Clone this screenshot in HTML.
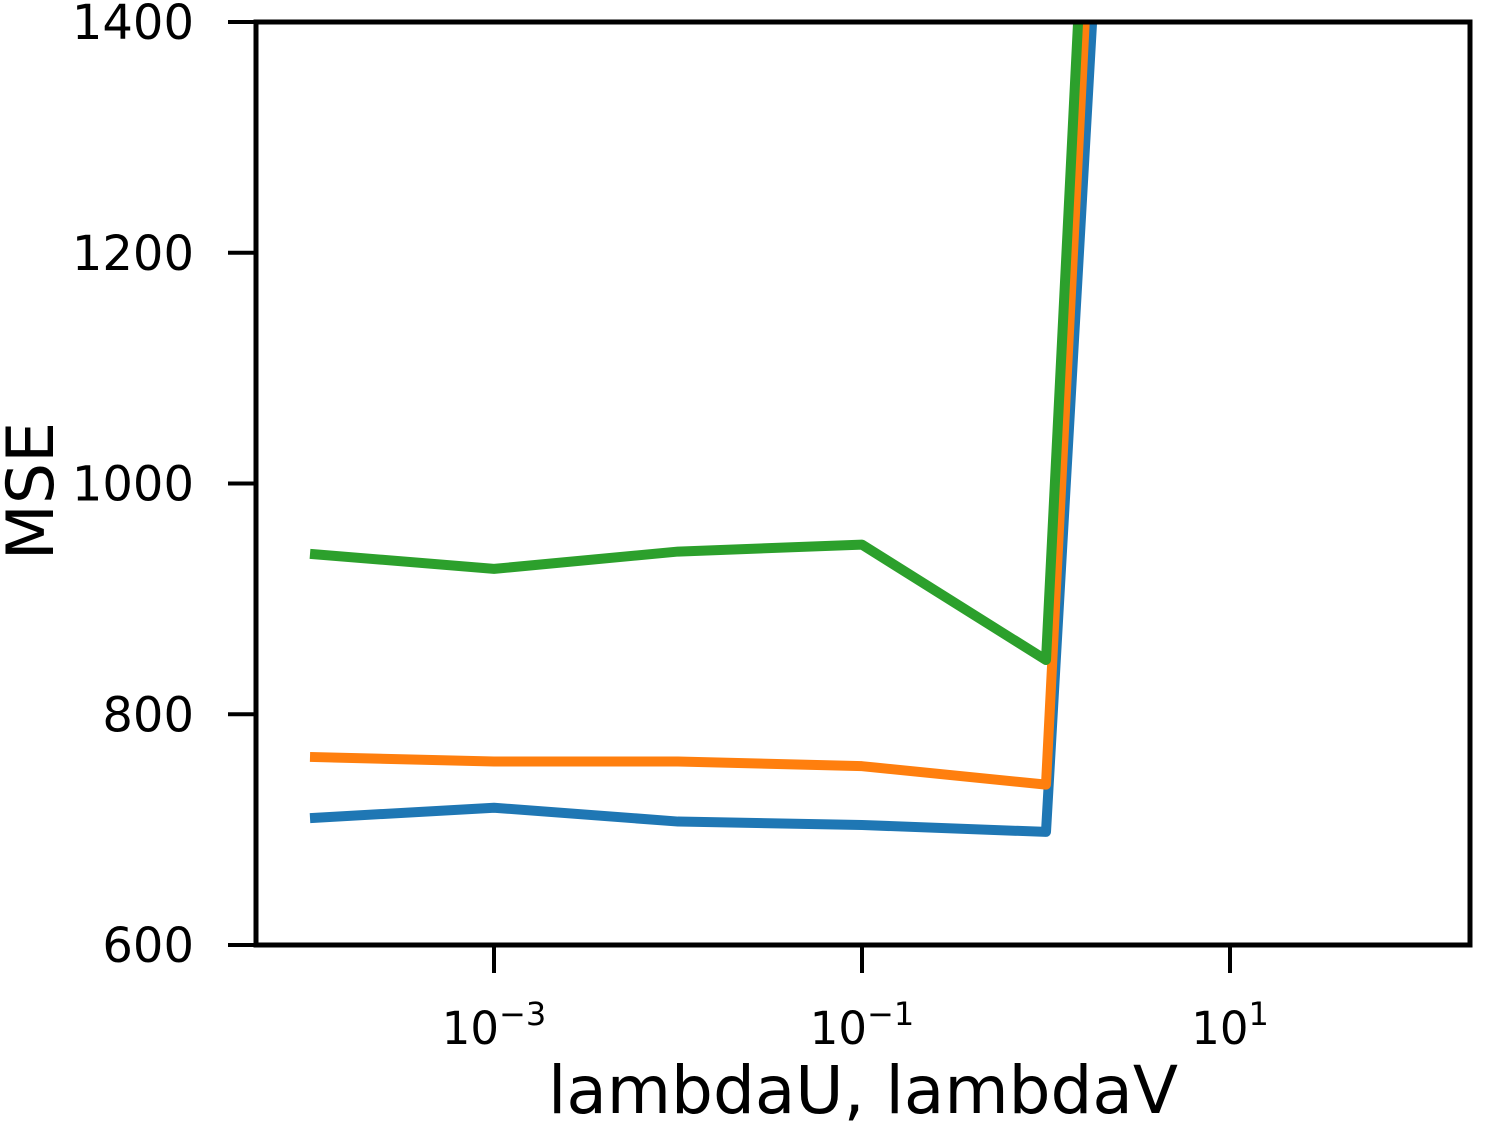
<!DOCTYPE html>
<html><head><meta charset="utf-8"><style>
html,body{margin:0;padding:0;background:#fff;}
svg{display:block;font-family:"DejaVu Sans","Liberation Sans",sans-serif;}
</style></head><body>
<svg id="chart" width="1500" height="1140">
<defs><clipPath id="plotclip"><rect x="256" y="22" width="1214" height="923"/></clipPath></defs>
<g id="series" clip-path="url(#plotclip)"></g>
<rect x="256" y="22" width="1214" height="923" fill="none" stroke="#000" stroke-width="5"/>
<g id="yticks"></g>
<g id="xticks"></g>
<text x="863" y="1113" font-size="66" text-anchor="middle">lambdaU, lambdaV</text>
<text x="0" y="0" font-size="65" text-anchor="middle" transform="translate(53,491) rotate(-90)">MSE</text>
</svg>
<script>
const lambdas = [1e-4, 1e-3, 1e-2, 1e-1, 1, 10, 100];
const blueVals = [710, 719, 707, 704, 698, 3500, 5000];
const orangeVals = [763, 759, 759, 755, 739, 3880, 5200];
const greenVals = [939, 926, 941, 947, 847, 4020, 5400];
const yTicks = [600, 800, 1000, 1200, 1400];
const xTickExps = [-3, -1, 1];
const seriesNames = ['blue-series', 'orange-series', 'green-series'];
const seriesColors = ['#1f77b4', '#ff7f0e', '#2ca02c'];

const NS = 'http://www.w3.org/2000/svg';
function xs(v){ return 862 + (Math.log10(v) + 1) * 184; }
function ys(v){ return 945 - (v - 600) * (923 / 800); }

const sg = document.getElementById('series');
[blueVals, orangeVals, greenVals].forEach((vals, i) => {
  const p = document.createElementNS(NS, 'polyline');
  p.setAttribute('points', vals.map((v, j) => xs(lambdas[j]) + ',' + ys(v)).join(' '));
  p.setAttribute('fill', 'none');
  p.setAttribute('stroke', seriesColors[i]);
  p.setAttribute('stroke-width', '10');
  p.setAttribute('stroke-linejoin', 'round');
  
  
  sg.appendChild(p);
});

const yg = document.getElementById('yticks');
yTicks.forEach(t => {
  const y = ys(t);
  const l = document.createElementNS(NS, 'line');
  l.setAttribute('x1', 228); l.setAttribute('x2', 256);
  l.setAttribute('y1', y); l.setAttribute('y2', y);
  l.setAttribute('stroke', '#000'); l.setAttribute('stroke-width', '4');
  
  
  yg.appendChild(l);
  const tx = document.createElementNS(NS, 'text');
  tx.setAttribute('x', 194); tx.setAttribute('y', y + 17);
  tx.setAttribute('font-size', '48'); tx.setAttribute('text-anchor', 'end');
  tx.textContent = t;
  
  
  yg.appendChild(tx);
});

const xg = document.getElementById('xticks');
xTickExps.forEach(e => {
  const x = xs(Math.pow(10, e));
  const l = document.createElementNS(NS, 'line');
  l.setAttribute('x1', x); l.setAttribute('x2', x);
  l.setAttribute('y1', 945); l.setAttribute('y2', 973);
  l.setAttribute('stroke', '#000'); l.setAttribute('stroke-width', '4');
  
  
  xg.appendChild(l);
  const tx = document.createElementNS(NS, 'text');
  tx.setAttribute('x', x); tx.setAttribute('y', 1044);
  tx.setAttribute('font-size', '45'); tx.setAttribute('text-anchor', 'middle');
  tx.innerHTML = '10<tspan dy="-19" font-size="32">' + (e < 0 ? '\u2212' + (-e) : e) + '</tspan>';
  
  
  xg.appendChild(tx);
});
</script>
</body></html>
